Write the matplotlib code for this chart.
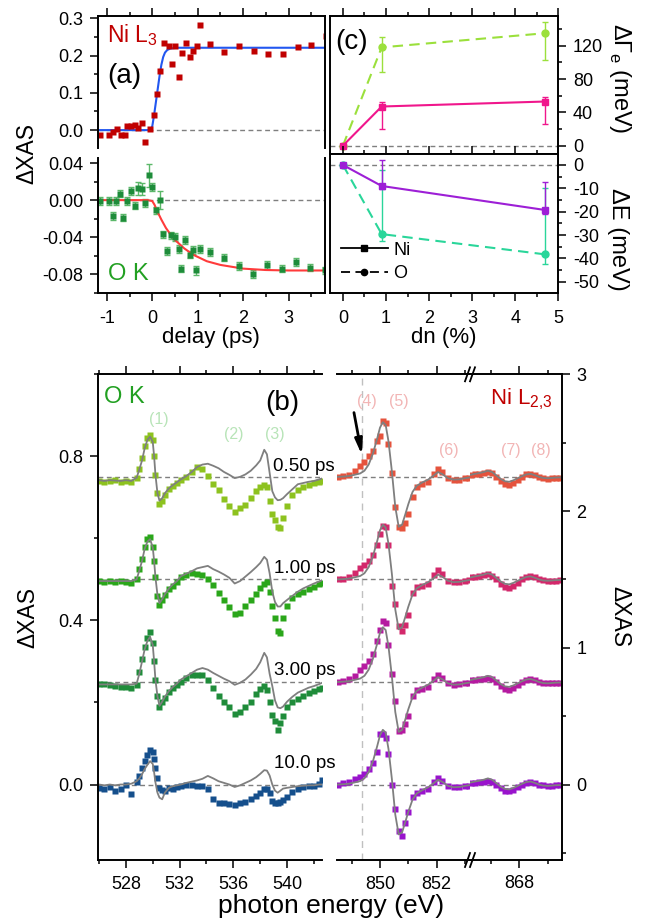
import numpy as np
import matplotlib.pyplot as plt
from matplotlib.ticker import MultipleLocator, FormatStrFormatter
from matplotlib.lines import Line2D

plt.rcParams['font.family'] = ['Liberation Sans', 'DejaVu Sans']
plt.rcParams['mathtext.fontset'] = 'custom'
plt.rcParams['mathtext.rm'] = 'Liberation Sans'
plt.rcParams['axes.unicode_minus'] = False
plt.rcParams['axes.linewidth'] = 1.4

# -----------------------------
# panel (a): delay traces
# -----------------------------
t_ni = [-1.15, -0.95, -0.86, -0.78, -0.69, -0.61, -0.55, -0.47, -0.39, -0.31, -0.22, -0.15,
        -0.05, 0.04, 0.11, 0.18, 0.26, 0.37, 0.44, 0.51, 0.58, 0.66, 0.75, 0.82, 0.90, 0.99,
        1.06, 1.26, 1.58, 1.91, 2.23, 2.55, 2.87, 3.20, 3.50, 3.82]
v_ni = [-0.012, -0.012, -0.005, 0.002, -0.013, -0.012, 0.011, 0.011, 0.014, 0.005, 0.018, -0.031,
        0.002, 0.040, 0.096, 0.159, 0.235, 0.226, 0.177, 0.226, 0.143, 0.206, 0.233, 0.195, 0.211, 0.227,
        0.282, 0.230, 0.209, 0.227, 0.213, 0.204, 0.203, 0.224, 0.228, 0.253]
t_fit_ni = [-1.2, -0.05, 0.0, 0.04, 0.08, 0.12, 0.16, 0.20, 0.24, 0.28, 0.33, 0.40, 0.55, 3.8]
fit_ni = [0.0, 0.0, 0.01, 0.04, 0.075, 0.11, 0.145, 0.175, 0.196, 0.208, 0.215, 0.219, 0.221, 0.221]

t_o = [-1.15, -0.95, -0.86, -0.79, -0.71, -0.64, -0.55, -0.46, -0.39, -0.31, -0.22, -0.15,
       -0.07, 0.00, 0.09, 0.18, 0.24, 0.33, 0.42, 0.49, 0.58, 0.64, 0.73, 0.82, 0.90, 0.97,
       1.06, 1.26, 1.58, 1.90, 2.21, 2.52, 2.85, 3.16, 3.48, 3.80]
v_o = [-0.001, -0.001, -0.017, -0.001, 0.007, -0.019, -0.001, 0.010, -0.006, 0.013, 0.012, -0.003,
       0.027, 0.014, -0.011, 0.000, -0.037, -0.055, -0.038, -0.040, -0.053, -0.074, -0.043, -0.059,
       -0.054, -0.076, -0.053, -0.056, -0.062, -0.071, -0.080, -0.070, -0.074, -0.067, -0.073, -0.076]
err_o = [0.004, 0.004, 0.004, 0.004, 0.004, 0.004, 0.004, 0.004, 0.004, 0.007, 0.007, 0.004,
         0.0125, 0.004, 0.004, 0.01, 0.004, 0.004, 0.004, 0.004, 0.004, 0.004, 0.004, 0.004,
         0.004, 0.005, 0.004, 0.004, 0.004, 0.004, 0.004, 0.004, 0.004, 0.004, 0.004, 0.004]
t_fit_o = [-1.2, -0.1, 0.0, 0.05, 0.1, 0.2, 0.3, 0.4, 0.5, 0.7, 0.9, 1.2, 1.5, 2.0, 2.5, 3.0, 3.8]
fit_o = [0.0, 0.0, -0.001, -0.005, -0.011, -0.021, -0.030, -0.037, -0.043, -0.052, -0.059,
         -0.066, -0.070, -0.074, -0.0755, -0.076, -0.076]

# -----------------------------
# panel (c): fit parameters vs dn
# -----------------------------
dn = [0.0, 0.9, 4.7]
gam_o = [0, 118, 135]
gam_o_lo = [0, 29, 32]
gam_o_hi = [0, 12, 13]
gam_ni = [0, 47, 53]
gam_ni_lo = [0, 27, 27]
gam_ni_hi = [0, 5, 5]
de_ni = [0, -9.0, -19.3]
de_ni_lo = [0, 1.5, 1.5]
de_ni_hi = [0, 11, 12]
de_o = [0, -29.6, -38.3]
de_o_lo = [0, 2.8, 4.3]
de_o_hi = [0, 27.5, 28.3]

# -----------------------------
# panel (b): O K spectra (offsets 0.75/0.5/0.25/0)
# -----------------------------
delays = ['0.50 ps', '1.00 ps', '3.00 ps', '10.0 ps']
ok_base = [0.75, 0.5, 0.25, 0.0]
e_ok = [526.0, 526.4, 526.8, 527.2, 527.6, 528.0, 528.4, 528.8, 529.0, 529.2,
        529.4, 529.6, 529.8, 530.0, 530.1, 530.2, 530.35, 530.5, 530.7, 530.9,
        531.2, 531.5, 531.8, 532.1, 532.5, 532.9, 533.3, 533.7, 534.1, 534.5,
        534.9, 535.3, 535.7, 536.1, 536.5, 536.9, 537.3, 537.7, 538.0, 538.3,
        538.5, 538.7, 538.9, 539.1, 539.3, 539.5, 539.7, 540.0, 540.4, 540.8,
        541.2, 541.6, 542.0, 542.4, 542.6]
ok_050 = [-0.010, -0.012, -0.010, -0.008, -0.012, -0.010, -0.012, -0.004, 0.020, 0.045,
          0.075, 0.095, 0.102, 0.090, 0.050, 0.005, -0.040, -0.065, -0.058, -0.045,
          -0.030, -0.022, -0.015, -0.008, 0.000, 0.012, 0.024, 0.018, 0.002, -0.018,
          -0.032, -0.055, -0.070, -0.085, -0.075, -0.068, -0.052, -0.035, -0.025, -0.020,
          -0.024, -0.060, -0.090, -0.105, -0.122, -0.125, -0.100, -0.070, -0.045, -0.033,
          -0.025, -0.020, -0.016, -0.013, -0.010]
okg_050 = [-0.008, -0.010, -0.008, -0.009, -0.010, -0.008, -0.010, -0.002, 0.018, 0.040,
           0.070, 0.090, 0.098, 0.085, 0.050, 0.005, -0.040, -0.058, -0.052, -0.040,
           -0.028, -0.020, -0.013, -0.006, 0.002, 0.012, 0.024, 0.030, 0.032, 0.027,
           0.021, 0.012, 0.005, -0.003, 0.000, 0.006, 0.015, 0.028, 0.040, 0.066,
           0.055, 0.010, -0.035, -0.050, -0.057, -0.056, -0.052, -0.042, -0.030, -0.018,
           -0.015, -0.012, -0.010, -0.006, -0.004]
ok_100 = [-0.004, -0.006, -0.004, -0.006, -0.004, -0.006, -0.008, 0.000, 0.025, 0.050,
          0.080, 0.098, 0.104, 0.080, 0.045, 0.005, -0.040, -0.063, -0.050, -0.038,
          -0.024, -0.015, -0.006, 0.006, 0.011, 0.016, 0.013, 0.010, 0.002, -0.013,
          -0.033, -0.050, -0.068, -0.085, -0.082, -0.065, -0.050, -0.036, -0.020, -0.010,
          -0.006, -0.030, -0.065, -0.095, -0.125, -0.130, -0.095, -0.065, -0.045, -0.036,
          -0.030, -0.024, -0.018, -0.012, -0.008]
okg_100 = [-0.004, -0.004, -0.004, -0.004, -0.004, -0.004, -0.004, 0.000, 0.022, 0.045,
           0.075, 0.092, 0.098, 0.078, 0.045, 0.005, -0.038, -0.058, -0.048, -0.036,
           -0.022, -0.012, -0.004, 0.008, 0.014, 0.020, 0.027, 0.030, 0.033, 0.025,
           0.019, 0.012, 0.004, -0.010, -0.004, 0.007, 0.018, 0.030, 0.040, 0.055,
           0.048, 0.015, -0.030, -0.055, -0.066, -0.066, -0.058, -0.050, -0.040, -0.030,
           -0.022, -0.016, -0.010, -0.005, -0.002]
ok_300 = [-0.004, -0.006, -0.008, -0.010, -0.012, -0.012, -0.014, -0.008, 0.025, 0.055,
          0.085, 0.108, 0.122, 0.095, 0.050, 0.005, -0.035, -0.062, -0.050, -0.040,
          -0.025, -0.015, -0.008, 0.001, 0.010, 0.017, 0.018, 0.017, 0.006, -0.014,
          -0.034, -0.048, -0.062, -0.078, -0.073, -0.062, -0.048, -0.030, -0.018, -0.011,
          -0.020, -0.050, -0.080, -0.095, -0.118, -0.100, -0.082, -0.062, -0.050, -0.042,
          -0.035, -0.028, -0.021, -0.017, -0.014]
okg_300 = [-0.006, -0.006, -0.006, -0.006, -0.006, -0.006, -0.006, -0.004, 0.020, 0.050,
           0.080, 0.100, 0.110, 0.090, 0.050, 0.005, -0.035, -0.058, -0.048, -0.036,
           -0.022, -0.012, -0.004, 0.006, 0.014, 0.022, 0.030, 0.034, 0.030, 0.022,
           0.015, 0.008, 0.002, -0.007, -0.002, 0.006, 0.018, 0.032, 0.048, 0.071,
           0.060, 0.020, -0.010, -0.045, -0.062, -0.064, -0.060, -0.048, -0.036, -0.026,
           -0.020, -0.014, -0.010, -0.005, -0.002]
ok_1000 = [-0.008, -0.012, -0.006, -0.016, -0.010, 0.000, -0.022, 0.005, 0.020, 0.040,
           0.058, 0.072, 0.083, 0.080, 0.061, 0.040, 0.015, -0.008, -0.014, -0.016,
           -0.008, -0.012, -0.006, -0.004, -0.002, 0.000, -0.004, -0.004, -0.012, -0.035,
           -0.044, -0.046, -0.047, -0.051, -0.045, -0.042, -0.036, -0.028, -0.020, -0.012,
           -0.012, -0.020, -0.040, -0.046, -0.045, -0.042, -0.038, -0.030, -0.018, -0.010,
           -0.006, -0.004, -0.004, 0.002, 0.012]
okg_1000 = [0.000, -0.002, 0.000, -0.002, 0.000, 0.000, 0.002, 0.008, 0.015, 0.025,
            0.038, 0.048, 0.057, 0.050, 0.030, 0.005, -0.020, -0.032, -0.036, -0.020,
            -0.008, -0.004, -0.002, 0.000, 0.004, 0.007, 0.010, 0.014, 0.021, 0.015,
            0.008, 0.004, 0.000, -0.006, -0.002, 0.004, 0.010, 0.018, 0.026, 0.035,
            0.034, 0.022, 0.000, -0.015, -0.020, -0.015, -0.010, -0.008, -0.006, -0.004,
            -0.003, -0.002, -0.002, 0.000, 0.000]

# -----------------------------
# panel (b): Ni L2,3 spectra (right axis, offsets 2.25/1.5/0.75/0)
# -----------------------------
ni_base = [2.25, 1.5, 0.75, 0.0]
e_ni_a = [848.5, 848.7, 848.9, 849.1, 849.3, 849.45, 849.6, 849.75, 849.9, 850.0, 850.1,
          850.2, 850.3, 850.42, 850.54, 850.66, 850.78, 850.9, 851.0, 851.15, 851.3,
          851.5, 851.7, 851.9, 852.05, 852.2, 852.4, 852.6, 852.8, 853.0, 853.15]
ni_050_a = [0.000, 0.005, 0.015, 0.040, 0.080, 0.110, 0.150, 0.190, 0.260, 0.300, 0.410,
            0.395, 0.240, 0.030, -0.220, -0.365, -0.375, -0.340, -0.270, -0.150, -0.075,
            -0.055, -0.035, 0.020, 0.060, 0.035, -0.010, -0.022, -0.020, -0.012, -0.005]
ni_100_a = [0.000, 0.006, 0.018, 0.045, 0.080, 0.105, 0.135, 0.175, 0.250, 0.330, 0.390,
            0.385, 0.250, -0.050, -0.180, -0.340, -0.378, -0.330, -0.260, -0.100, -0.055,
            -0.050, -0.030, 0.030, 0.068, 0.040, -0.010, -0.020, -0.018, -0.010, -0.005]
ni_300_a = [0.000, 0.008, 0.020, 0.045, 0.085, 0.120, 0.150, 0.205, 0.300, 0.383, 0.444,
            0.430, 0.270, 0.060, -0.140, -0.355, -0.350, -0.310, -0.250, -0.100, -0.060,
            -0.050, -0.035, 0.020, 0.054, 0.030, -0.010, -0.020, -0.015, -0.008, -0.006]
ni_1000_a = [0.000, 0.008, 0.018, 0.040, 0.055, 0.075, 0.110, 0.160, 0.235, 0.366, 0.366,
             0.340, 0.220, 0.000, -0.180, -0.340, -0.378, -0.280, -0.200, -0.090, -0.065,
             -0.050, -0.030, 0.020, 0.049, 0.025, -0.012, -0.020, -0.015, -0.010, -0.008]
ni_ref_a = [0.000, 0.002, 0.006, 0.015, 0.025, 0.045, 0.090, 0.170, 0.280, 0.360, 0.400,
            0.380, 0.260, 0.040, -0.220, -0.365, -0.350, -0.270, -0.200, -0.110, -0.065,
            -0.040, -0.020, 0.010, 0.035, 0.020, -0.010, -0.020, -0.018, -0.010, -0.005]
e_ni_b = [866.3, 866.45, 866.6, 866.75, 866.9, 867.05, 867.2, 867.35, 867.5, 867.65, 867.8,
          867.95, 868.1, 868.25, 868.4, 868.55, 868.7, 868.85, 869.0, 869.15, 869.3, 869.45]
ni_050_b = [0.012, 0.020, 0.022, 0.028, 0.037, 0.025, 0.000, -0.030, -0.055, -0.061, -0.045,
            -0.022, 0.000, 0.018, 0.024, 0.015, 0.000, -0.010, -0.014, -0.012, -0.008, -0.006]
ni_100_b = [0.015, 0.020, 0.024, 0.030, 0.037, 0.028, 0.005, -0.030, -0.058, -0.066, -0.050,
            -0.025, 0.000, 0.018, 0.025, 0.015, 0.002, -0.006, -0.010, -0.010, -0.008, -0.006]
ni_300_b = [0.012, 0.016, 0.020, 0.025, 0.030, 0.022, 0.000, -0.028, -0.050, -0.056, -0.042,
            -0.020, 0.000, 0.014, 0.020, 0.012, 0.000, -0.008, -0.010, -0.010, -0.008, -0.006]
ni_1000_b = [0.010, 0.014, 0.018, 0.022, 0.025, 0.018, 0.000, -0.025, -0.045, -0.050, -0.038,
             -0.018, 0.000, 0.012, 0.018, 0.010, 0.000, -0.006, -0.010, -0.008, -0.006, -0.005]
ni_ref_b = [0.015, 0.022, 0.028, 0.035, 0.045, 0.035, 0.010, -0.015, -0.032, -0.036, -0.025,
            -0.010, 0.005, 0.018, 0.022, 0.012, 0.000, -0.008, -0.010, -0.008, -0.005, -0.004]

ok_cols = ['#8dc21f', '#2aa61a', '#1f8c3a', '#154f8c']
ni_cols = ['#e5533d', '#d3286b', '#b51aa0', '#9913cc']
GRAY = '#7f7f7f'
DASH = (0, (3.5, 2.5))

# -----------------------------
# figure layout (pixel boxes)
# -----------------------------
fig = plt.figure(figsize=(6.6, 9.22), dpi=100)
W, H = 660.0, 922.0


def box(x0, y0, x1, y1):
    return [x0 / W, 1 - y1 / H, (x1 - x0) / W, (y1 - y0) / H]


def ftext(x, y, s, **kw):
    fig.text(x / W, 1 - y / H, s, **kw)


def ticks(ax):
    ax.tick_params(which='both', direction='out', labelsize=13, width=1.1)
    ax.tick_params(which='major', length=5.5, pad=5)
    ax.tick_params(which='minor', length=3)


# ---- (a) top: Ni L3
ax = fig.add_axes(box(97.7, 15.7, 325, 148))
ax.axhline(0, color=GRAY, ls=DASH, lw=1)
ax.plot(t_fit_ni, fit_ni, color='#2257f0', lw=1.5)
ax.plot(t_ni, v_ni, 's', color='#c00000', ms=4.3, mec='none')
ax.set_xlim(-1.2, 3.8)
ax.set_ylim(-0.048, 0.307)
ax.spines['bottom'].set_visible(False)
ax.xaxis.set_major_locator(MultipleLocator(1))
ax.xaxis.set_minor_locator(MultipleLocator(0.5))
ax.yaxis.set_major_locator(MultipleLocator(0.1))
ax.yaxis.set_minor_locator(MultipleLocator(0.05))
ax.yaxis.set_major_formatter(FormatStrFormatter('%.1f'))
ticks(ax)
ax.tick_params(axis='x', which='both', bottom=False, top=True, labelbottom=False)

# ---- (a) bottom: O K
ax = fig.add_axes(box(97.7, 158, 325, 292.7))
ax.axhline(0, color=GRAY, ls=DASH, lw=1)
ax.errorbar(t_o, v_o, yerr=err_o, fmt='s', color='#1e8c3a', ecolor='#5cb86a',
            ms=4.3, mec='none', capsize=2, elinewidth=1)
ax.plot(t_fit_o, fit_o, color='#ff3b3b', lw=1.5)
ax.set_xlim(-1.2, 3.8)
ax.set_ylim(-0.1, 0.0455)
ax.spines['top'].set_visible(False)
ax.xaxis.set_major_locator(MultipleLocator(1))
ax.xaxis.set_minor_locator(MultipleLocator(0.5))
ax.yaxis.set_major_locator(MultipleLocator(0.04))
ax.yaxis.set_minor_locator(MultipleLocator(0.02))
ax.yaxis.set_major_formatter(FormatStrFormatter('%.2f'))
ticks(ax)
ax.tick_params(axis='x', pad=7)

# ---- (c) top: Gamma_e
c1 = fig.add_axes(box(330, 15.7, 558.3, 154))
c1.axhline(0, color=GRAY, ls=DASH, lw=1)
c1.errorbar(dn, gam_o, yerr=[gam_o_lo, gam_o_hi], fmt='none', ecolor='#9be03c', capsize=2.5, elinewidth=1)
c1.plot(dn, gam_o, ls=(0, (5, 3)), marker='o', color='#9be03c', ms=5, lw=1.5)
c1.errorbar(dn, gam_ni, yerr=[gam_ni_lo, gam_ni_hi], fmt='none', ecolor='#f0168c', capsize=2.5, elinewidth=1)
c1.plot(dn, gam_ni, '-s', color='#f0168c', ms=4.2, lw=1.5)
c1.set_xlim(-0.3, 5.0)
c1.set_ylim(-10, 156)
c1.yaxis.tick_right()
c1.xaxis.set_major_locator(MultipleLocator(1))
c1.xaxis.set_minor_locator(MultipleLocator(0.5))
c1.yaxis.set_major_locator(MultipleLocator(40))
c1.yaxis.set_minor_locator(MultipleLocator(20))
ticks(c1)
c1.tick_params(axis='x', which='both', top=True, bottom=True, labelbottom=False)

# ---- (c) bottom: Delta E
c2 = fig.add_axes(box(330, 154, 558.3, 292.7))
c2.axhline(0, color=GRAY, ls=DASH, lw=1)
c2.errorbar(dn, de_o, yerr=[de_o_lo, de_o_hi], fmt='none', ecolor='#2ad69a', capsize=2.5, elinewidth=1)
c2.plot(dn, de_o, ls=(0, (5, 3)), marker='o', color='#2ad69a', ms=5, lw=1.5)
c2.errorbar(dn, de_ni, yerr=[de_ni_lo, de_ni_hi], fmt='none', ecolor='#9d1fd6', capsize=2.5, elinewidth=1)
c2.plot(dn, de_ni, '-s', color='#9d1fd6', ms=4.2, lw=1.5)
c2.set_xlim(-0.3, 5.0)
c2.set_ylim(-54.7, 4.7)
c2.yaxis.tick_right()
c2.xaxis.set_major_locator(MultipleLocator(1))
c2.xaxis.set_minor_locator(MultipleLocator(0.5))
c2.yaxis.set_major_locator(MultipleLocator(10))
c2.yaxis.set_minor_locator(MultipleLocator(5))
ticks(c2)
c2.tick_params(axis='x', which='both', top=True, bottom=True, pad=7)
hnd = [Line2D([], [], color='k', ls='-', marker='s', ms=4, lw=1.3),
       Line2D([], [], color='k', ls=(0, (5, 3)), marker='o', ms=4.5, lw=1.3)]
c2.legend(hnd, ['Ni', 'O'], loc='lower left', bbox_to_anchor=(0.0, 0.0), frameon=False,
          fontsize=13, handlelength=2.6, handletextpad=0.3, labelspacing=0.35, borderaxespad=0.2)

# ---- (b) left: O K spectra
b1 = fig.add_axes(box(97.7, 374.3, 322, 860))
ok_sets = [(ok_050, okg_050), (ok_100, okg_100), (ok_300, okg_300), (ok_1000, okg_1000)]
for off, col, (y, g) in zip(ok_base, ok_cols, ok_sets):
    b1.axhline(off, color=GRAY, ls=DASH, lw=1)
    b1.plot(e_ok, np.array(y) + off, 's', color=col, ms=4.2, mec='none')
    b1.plot(e_ok, np.array(g) + off, color=GRAY, lw=1.3)
b1.set_xlim(525.9, 542.6)
b1.set_ylim(-0.184, 1.0)
b1.spines['right'].set_visible(False)
b1.xaxis.set_major_locator(MultipleLocator(4))
b1.xaxis.set_minor_locator(MultipleLocator(2))
b1.yaxis.set_major_locator(MultipleLocator(0.4))
b1.yaxis.set_minor_locator(MultipleLocator(0.2))
b1.yaxis.set_major_formatter(FormatStrFormatter('%.1f'))
ticks(b1)
b1.tick_params(axis='x', which='both', top=True, pad=6)
b1.text(530.45, 0.891, '(1)', color='#b8e4b8', fontsize=11.5, ha='center', va='center')
b1.text(536.0, 0.853, '(2)', color='#b8e4b8', fontsize=11.5, ha='center', va='center')
b1.text(539.05, 0.853, '(3)', color='#b8e4b8', fontsize=11.5, ha='center', va='center')

# ---- (b) right: Ni L3 edge and L2 edge (broken axis)
b2 = fig.add_axes(box(336.7, 374.3, 470, 860))
b3 = fig.add_axes(box(470, 374.3, 561.7, 860))
ni_a = [ni_050_a, ni_100_a, ni_300_a, ni_1000_a]
ni_b = [ni_050_b, ni_100_b, ni_300_b, ni_1000_b]
b2.axvline(849.38, color='#c0c0c0', ls=(0, (5, 4)), lw=1)
for off, col, ya, yb in zip(ni_base, ni_cols, ni_a, ni_b):
    for axx, e, y, g in ((b2, e_ni_a, ya, ni_ref_a), (b3, e_ni_b, yb, ni_ref_b)):
        axx.axhline(off, color=GRAY, ls=DASH, lw=1)
        axx.plot(e, np.array(y) + off, 's', color=col, ms=4.2, mec='none')
        axx.plot(e, np.array(g) + off, color=GRAY, lw=1.3)
for axx, lim in ((b2, (848.47, 853.18)), (b3, (866.27, 869.5))):
    axx.set_xlim(*lim)
    axx.set_ylim(-0.552, 3.0)
    axx.spines['left'].set_visible(False)
    axx.xaxis.set_major_locator(MultipleLocator(2))
    axx.xaxis.set_minor_locator(MultipleLocator(1))
    ticks(axx)
    axx.tick_params(axis='x', which='both', top=True, pad=6)
b2.spines['right'].set_visible(False)
b2.tick_params(axis='y', which='both', left=False, labelleft=False)
b3.yaxis.tick_right()
b3.yaxis.set_major_locator(MultipleLocator(1))
b3.yaxis.set_minor_locator(MultipleLocator(0.5))
b3.yaxis.set_major_formatter(FormatStrFormatter('%d'))
ticks(b3)

for e, s in ((849.52, '(4)'), (850.66, '(5)')):
    b2.text(e, 2.804, s, color='#f2b5b5', fontsize=11.5, ha='center', va='center')
b2.text(852.43, 2.446, '(6)', color='#f2b5b5', fontsize=11.5, ha='center', va='center')
b3.text(867.71, 2.446, '(7)', color='#f2b5b5', fontsize=11.5, ha='center', va='center')
b3.text(868.77, 2.446, '(8)', color='#f2b5b5', fontsize=11.5, ha='center', va='center')
b2.annotate('', xy=(849.36, 2.41), xytext=(849.08, 2.72),
            arrowprops=dict(arrowstyle='-|>,head_length=0.9,head_width=0.22', color='k',
                            lw=2, shrinkA=0, shrinkB=0))

# break marks on the energy axis
for yb in (374.3, 860):
    for xb in (467.5, 472.5):
        fig.add_artist(Line2D([(xb - 2.5) / W, (xb + 2.5) / W], [1 - (yb + 7) / H, 1 - (yb - 7) / H],
                              color='k', lw=1.3, transform=fig.transFigure))

# -----------------------------
# text labels
# -----------------------------
ftext(107, 41.7, r'Ni L$_\mathregular{3}$', color='#c00000', fontsize=16.5, va='baseline')
ftext(107, 76, '(a)', fontsize=20, va='center')
ftext(108, 280, 'O K', color='#22a022', fontsize=17, va='baseline')
ftext(335, 42, '(c)', fontsize=20, va='center')
ftext(104, 402.7, 'O K', color='#22a022', fontsize=17, va='baseline')
ftext(265, 403, '(b)', fontsize=20, va='center')
ftext(490, 404, r'Ni L$_\mathregular{2{,}3}$', color='#c00000', fontsize=16, va='baseline')
for yy, s in zip([471, 573.3, 675, 768.3], delays):
    ftext(335, yy, s, fontsize=13.5, ha='right', va='baseline')

ftext(27, 154, 'ΔXAS', rotation=90, fontsize=16.5, ha='center', va='center')
ftext(211, 343, 'delay (ps)', fontsize=16, ha='center', va='baseline')
ftext(444, 343, 'dn (%)', fontsize=16, ha='center', va='baseline')
ftext(620, 78, r'ΔΓ$_\mathregular{e}$ (meV)', rotation=270, fontsize=17, ha='center', va='center')
ftext(618, 239, 'ΔE (meV)', rotation=270, fontsize=17, ha='center', va='center')
ftext(28, 617, 'ΔXAS', rotation=90, fontsize=16.5, ha='center', va='center')
ftext(620, 617, 'ΔXAS', rotation=270, fontsize=16.5, ha='center', va='center')
ftext(331, 913, 'photon energy (eV)', fontsize=19, ha='center', va='baseline')

fig.savefig('out.png', dpi=100)
